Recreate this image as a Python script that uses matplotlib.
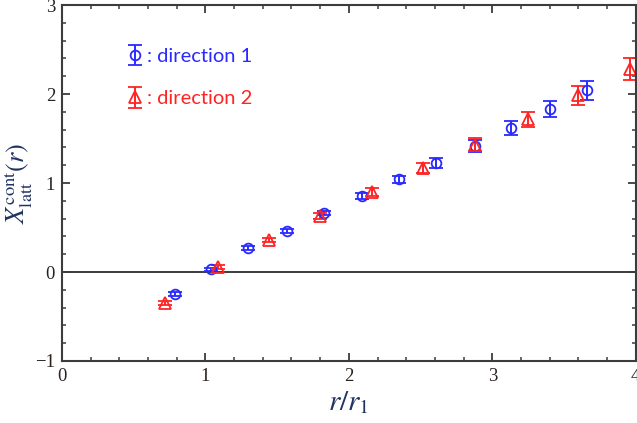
import matplotlib
matplotlib.use("Agg")
import matplotlib.pyplot as plt
from matplotlib.ticker import MultipleLocator

# direction 1 (blue circles)
r1_dir1 = [0.79, 1.04, 1.30, 1.57, 1.83, 2.09, 2.35, 2.61, 2.88, 3.13, 3.40, 3.66]
x_dir1 = [-0.25, 0.03, 0.27, 0.46, 0.665, 0.855, 1.04, 1.23, 1.42, 1.62, 1.83, 2.04]
err_dir1 = [0.02, 0.02, 0.02, 0.02, 0.025, 0.03, 0.043, 0.056, 0.068, 0.08, 0.09, 0.11]

# direction 2 (red triangles)
r1_dir2 = [0.72, 1.09, 1.44, 1.80, 2.16, 2.52, 2.88, 3.25, 3.60, 3.96]
x_dir2 = [-0.35, 0.055, 0.36, 0.63, 0.895, 1.17, 1.43, 1.715, 1.985, 2.28]
err_dir2 = [0.02, 0.02, 0.025, 0.03, 0.045, 0.056, 0.073, 0.088, 0.107, 0.12]

xticks = [0, 1, 2, 3, 4]
yticks = [-1, 0, 1, 2, 3]

BLUE = "#2a2aff"
RED = "#ff2424"
NAVY = "#1f3260"
AXC = "#3c3c3c"

plt.rcParams["mathtext.fontset"] = "stix"

fig = plt.figure(figsize=(6.37, 4.23), dpi=100)
ax = fig.add_axes([0.0973, 0.1466, 0.9007, 0.8414])

eb_kw = dict(linestyle="none", markerfacecolor="none", capsize=5,
             elinewidth=1.4, capthick=1.4, markeredgewidth=1.3)
h1 = ax.errorbar(r1_dir1, x_dir1, yerr=err_dir1, fmt="o", markersize=7,
                 color=BLUE, **eb_kw)
h2 = ax.errorbar(r1_dir2, x_dir2, yerr=err_dir2, fmt="^", markersize=8,
                 color=RED, **eb_kw)

ax.axhline(0, color=AXC, linewidth=1.4, zorder=0)

ax.set_xlim(0, 4)
ax.set_ylim(-1, 3)
ax.xaxis.set_minor_locator(MultipleLocator(0.2))
ax.yaxis.set_minor_locator(MultipleLocator(0.2))
ax.set_xticks(xticks)
ax.set_xticklabels([str(v) for v in xticks], fontfamily="Liberation Serif")
ax.set_yticks(yticks)
ax.set_yticklabels([str(v).replace("-", "\u2212") for v in yticks],
                   fontfamily="Liberation Serif")

ax.tick_params(which="both", direction="in", top=True, right=True,
               color=AXC, labelcolor="#2a2420", labelsize=13.5)
ax.tick_params(which="major", length=6, width=1.3, pad=5)
ax.tick_params(which="minor", length=3, width=1.1)
for s in ax.spines.values():
    s.set_color(AXC)
    s.set_linewidth(1.5)

ax.set_xlabel(r"$r/r_1$", fontsize=21, color=NAVY, labelpad=2)
ax.set_ylabel(r"$X^{\mathrm{cont}}_{\mathrm{latt}}(r)$", fontsize=19,
              color=NAVY, labelpad=1)

leg = ax.legend([h1, h2], [": direction 1", ": direction 2"],
                loc="upper left", bbox_to_anchor=(0.085, 0.93),
                frameon=False, handlelength=0.6, handletextpad=0.3,
                labelspacing=1.25, prop={"family": "Lato", "size": 14.5})
for t, c in zip(leg.get_texts(), [BLUE, RED]):
    t.set_color(c)

fig.savefig("out.png", dpi=100)
